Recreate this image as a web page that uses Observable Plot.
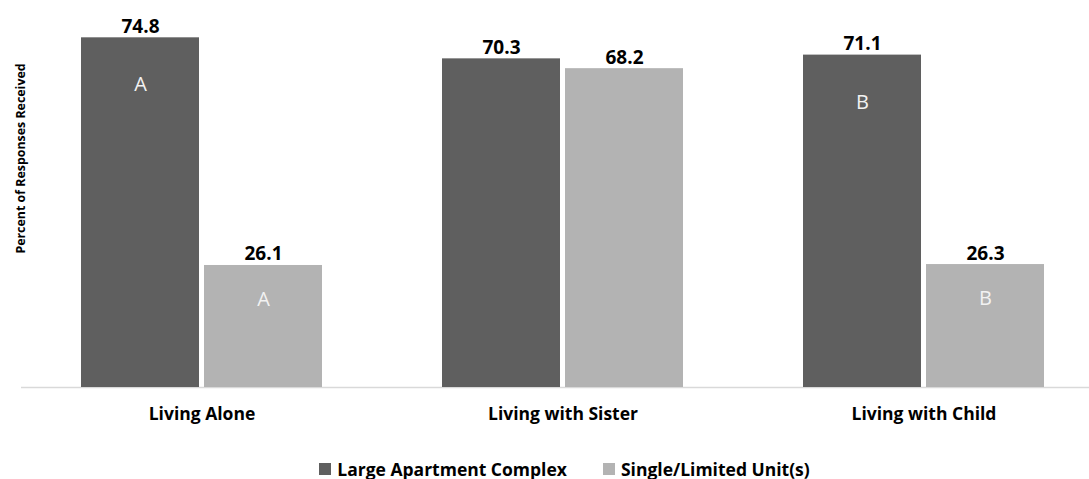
<!DOCTYPE html>
<html>
<head>
<meta charset="utf-8">
<script src="https://cdn.jsdelivr.net/npm/d3@7"></script>
<script src="https://cdn.jsdelivr.net/npm/@observablehq/plot@0.6"></script>
<style>
  html, body { margin: 0; padding: 0; background: #fff; }
  #chart { width: 1089px; font-family: "Open Sans", sans-serif; }
  .legend { display: flex; justify-content: center; align-items: center; gap: 36px;
            box-sizing: border-box; padding-top: 9px; padding-left: 40px; height: 29px;
            font-weight: bold; font-size: 17.5px; color: #000; }
  .legend span.item { display: flex; align-items: center; gap: 6px; }
  .legend i { display: inline-block; width: 12px; height: 12px; }
</style>
</head>
<body>
<div id="chart"></div>
<script>
// Living arrangements and housing type
const groups = ["Living Alone", "Living with Sister", "Living with Child"];
const series = ["Large Apartment Complex", "Single/Limited Unit(s)"];
const largeComplex = [74.8, 70.3, 71.1];
const singleUnit = [26.1, 68.2, 26.3];
// significance letters shown inside bars ("" = none)
const largeLetters = ["A", "", "B"];
const singleLetters = ["A", "", "B"];
const colors = ["#5f5f5f", "#b3b3b3"];
const yTitle = "Percent of Responses Received";

const rows = groups.flatMap((g, i) => [
  {group: g, series: series[0], value: largeComplex[i], letter: largeLetters[i]},
  {group: g, series: series[1], value: singleUnit[i], letter: singleLetters[i]}
]);

const font = "'Open Sans', sans-serif";

const chart = Plot.plot({
  width: 1089,
  height: 450,
  marginTop: 13,
  marginBottom: 63,
  marginLeft: 20,
  marginRight: 1,
  style: {fontFamily: font, background: "#fff"},
  fx: {domain: groups, range: [20, 1104], padding: 0, label: null},
  x: {domain: series, paddingInner: 0.04, paddingOuter: 0.477, axis: null},
  y: {domain: [0, 80], axis: null},
  color: {domain: series, range: colors},
  marks: [
    Plot.ruleY([0], {stroke: "#d9d9d9", strokeWidth: 1.5}),
    Plot.barY(rows, {fx: "group", x: "series", y: "value", fill: "series"}),
    Plot.text(rows, {fx: "group", x: "series", y: "value", text: d => d.value.toFixed(1),
      lineAnchor: "bottom", dy: -5, fontSize: 19, fontWeight: "bold", fill: "#000"}),
    Plot.text(rows.filter(d => d.series === series[0] && d.letter), {fx: "group", x: "series", y: "value",
      text: "letter", lineAnchor: "middle", dy: 47, fontSize: 20, fill: "#f2f2f2"}),
    Plot.text(rows.filter(d => d.series === series[1] && d.letter), {fx: "group", x: "series", y: "value",
      text: "letter", lineAnchor: "middle", dy: 34, fontSize: 20, fill: "#f2f2f2"}),
    Plot.axisFx({anchor: "bottom", tickSize: 0, tickPadding: 20, label: null,
      fontSize: 17.5, fontWeight: "bold", fill: "#000"}),
    Plot.text([yTitle], {facet: "super", frameAnchor: "left", rotate: -90, dy: -42,
      textAnchor: "middle", lineAnchor: "middle", fontSize: 12.4, fontWeight: "bold", fill: "#000"})
  ]
});

const root = document.getElementById("chart");
root.appendChild(chart);

const legend = document.createElement("div");
legend.className = "legend";
series.forEach((s, i) => {
  const item = document.createElement("span");
  item.className = "item";
  const sw = document.createElement("i");
  sw.style.background = colors[i];
  item.appendChild(sw);
  item.appendChild(document.createTextNode(s));
  legend.appendChild(item);
});
root.appendChild(legend);
</script>
</body>
</html>
